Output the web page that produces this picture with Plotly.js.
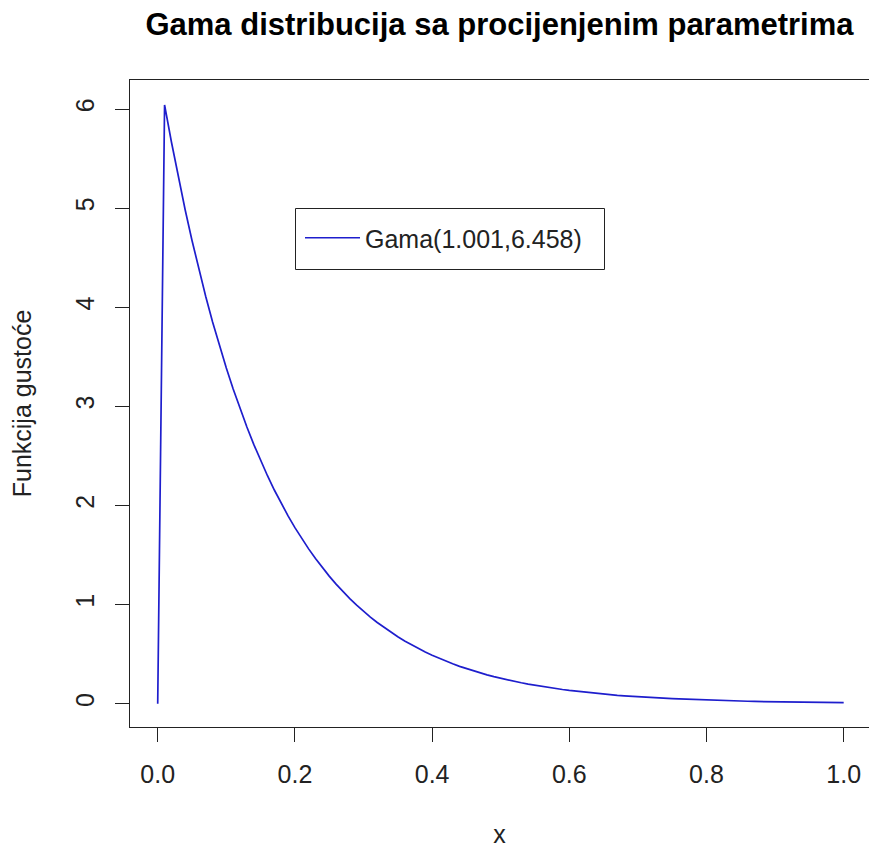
<!DOCTYPE html>
<html>
<head>
<meta charset="utf-8">
<script src="https://cdn.plot.ly/plotly-3.0.1.min.js"></script>
<style>html,body{margin:0;padding:0;background:#fff;}#chart{width:869px;height:850px;}</style>
</head>
<body>
<div id="chart"></div>
<script>
const chartTitle = "Gama distribucija sa procijenjenim parametrima";
const seriesName = "Gama(1.001,6.458)";
const xTitle = "x";
const yTitle = "Funkcija gustoće";
const xTicks = [0, 0.2, 0.4, 0.6, 0.8, 1.0];
const xTickLabels = ["0.0", "0.2", "0.4", "0.6", "0.8", "1.0"];
const yTicks = [0, 1, 2, 3, 4, 5, 6];
const yTickLabels = ["0", "1", "2", "3", "4", "5", "6"];

const xValues = [
  0.00, 0.01, 0.02, 0.03, 0.04, 0.05, 0.06, 0.07, 0.08, 0.09,
  0.10, 0.11, 0.12, 0.13, 0.14, 0.15, 0.16, 0.17, 0.18, 0.19,
  0.20, 0.21, 0.22, 0.23, 0.24, 0.25, 0.26, 0.27, 0.28, 0.29,
  0.30, 0.31, 0.32, 0.33, 0.34, 0.35, 0.36, 0.37, 0.38, 0.39,
  0.40, 0.41, 0.42, 0.43, 0.44, 0.45, 0.46, 0.47, 0.48, 0.49,
  0.50, 0.51, 0.52, 0.53, 0.54, 0.55, 0.56, 0.57, 0.58, 0.59,
  0.60, 0.61, 0.62, 0.63, 0.64, 0.65, 0.66, 0.67, 0.68, 0.69,
  0.70, 0.71, 0.72, 0.73, 0.74, 0.75, 0.76, 0.77, 0.78, 0.79,
  0.80, 0.81, 0.82, 0.83, 0.84, 0.85, 0.86, 0.87, 0.88, 0.89,
  0.90, 0.91, 0.92, 0.93, 0.94, 0.95, 0.96, 0.97, 0.98, 0.99,
  1.00
];
const densityValues = [
  0.000, 6.041, 5.667, 5.315, 4.984, 4.673, 4.382, 4.109, 3.852, 3.612,
  3.386, 3.175, 2.976, 2.791, 2.616, 2.453, 2.300, 2.156, 2.021, 1.895,
  1.776, 1.666, 1.562, 1.464, 1.373, 1.287, 1.206, 1.131, 1.060, 0.994,
  0.932, 0.874, 0.819, 0.768, 0.720, 0.675, 0.633, 0.593, 0.556, 0.521,
  0.489, 0.458, 0.429, 0.403, 0.377, 0.354, 0.332, 0.311, 0.291, 0.273,
  0.256, 0.240, 0.225, 0.211, 0.198, 0.186, 0.174, 0.163, 0.153, 0.143,
  0.134, 0.126, 0.118, 0.111, 0.104, 0.097, 0.091, 0.085, 0.080, 0.075,
  0.070, 0.066, 0.062, 0.058, 0.054, 0.051, 0.048, 0.045, 0.042, 0.039,
  0.037, 0.035, 0.032, 0.030, 0.029, 0.027, 0.025, 0.023, 0.022, 0.021,
  0.019, 0.018, 0.017, 0.016, 0.015, 0.014, 0.013, 0.012, 0.012, 0.011,
  0.010
];

const FONT = "Liberation Sans, Arial, sans-serif";
const W = 869, H = 850;
const L = 130, R = 0, T = 80, B = 123;
const pw = W - L - R, ph = H - T - B;
function px2paperX(p) { return (p - L) / pw; }
function px2paperY(p) { return (H - B - p) / ph; }

const trace = {
  type: "scatter",
  mode: "lines",
  x: xValues,
  y: densityValues,
  name: seriesName,
  line: { color: "rgb(30,30,205)", width: 1.7 },
  showlegend: true
};

const layout = {
  width: W,
  height: H,
  margin: { l: L, r: R, t: T, b: B, pad: 0 },
  paper_bgcolor: "#ffffff",
  plot_bgcolor: "#ffffff",
  font: { family: FONT, size: 25, color: "#222" },
  title: {
    text: chartTitle,
    font: { family: FONT, size: 31, color: "#000", weight: "bold" },
    x: 0.5, xref: "paper", xanchor: "center",
    y: 1 - 24 / H, yref: "container", yanchor: "middle"
  },
  xaxis: {
    range: [-0.0404, 1.0369],
    tickvals: xTicks,
    ticktext: xTickLabels,
    ticks: "outside",
    ticklen: 14,
    tickwidth: 1,
    tickcolor: "#222",
    showline: true,
    linecolor: "#222",
    linewidth: 1,
    mirror: true,
    showgrid: false,
    zeroline: false,
    ticklabelstandoff: 11,
    tickfont: { family: FONT, size: 25, color: "#222" },
    title: { text: xTitle, font: { family: FONT, size: 25, color: "#222" }, standoff: 38 }
  },
  yaxis: {
    range: [-0.235, 6.2926],
    tickvals: yTicks,
    ticktext: yTickLabels,
    tickangle: -90,
    ticks: "outside",
    ticklen: 14,
    tickwidth: 1,
    tickcolor: "#222",
    showline: true,
    linecolor: "#222",
    linewidth: 1,
    mirror: false,
    showgrid: false,
    zeroline: false,
    ticklabelstandoff: 11,
    tickfont: { family: FONT, size: 25, color: "#222" },
    title: { text: yTitle, font: { family: FONT, size: 25, color: "#222" }, standoff: 32 }
  },
  showlegend: true,
  legend: {
    x: px2paperX(300),
    y: px2paperY(238),
    xanchor: "left",
    yanchor: "middle",
    xref: "paper",
    yref: "paper",
    bgcolor: "rgba(0,0,0,0)",
    borderwidth: 0,
    itemwidth: 55,
    font: { family: FONT, size: 25, color: "#222" }
  },
  shapes: [
    {
      type: "rect", xref: "paper", yref: "paper",
      x0: px2paperX(295.5), x1: px2paperX(604.5),
      y0: px2paperY(269.5), y1: px2paperY(208.5),
      line: { color: "#222", width: 1 }, fillcolor: "rgba(0,0,0,0)"
    }
  ]
};

Plotly.newPlot("chart", [trace], layout, { displayModeBar: false, staticPlot: true });
</script>
</body>
</html>
